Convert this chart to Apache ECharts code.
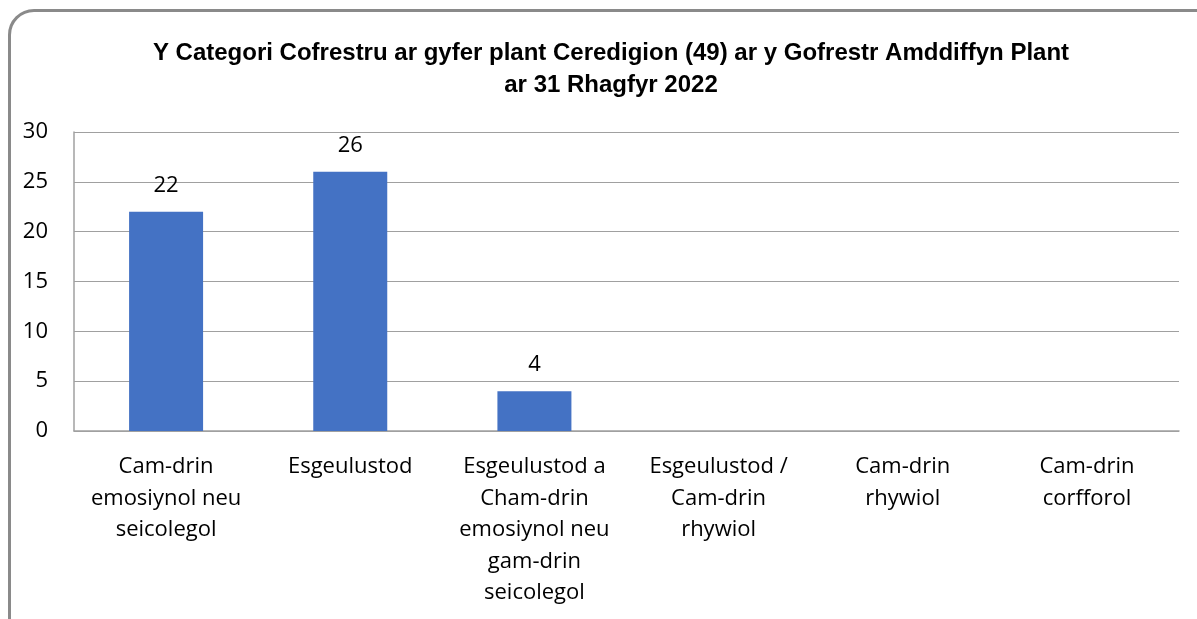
<!DOCTYPE html>
<html>
<head>
<meta charset="utf-8">
<script src="https://cdn.jsdelivr.net/npm/echarts@6/dist/echarts.min.js"></script>
<style>
  html, body { margin: 0; padding: 0; background: #fff; overflow: hidden; }
  #frame {
    position: absolute; left: 8px; top: 9px; width: 1220px; height: 640px;
    border: 3px solid #8a8a8a; border-radius: 26px; box-sizing: border-box;
  }
  #chart { position: absolute; left: 0; top: 0; width: 1197px; height: 619px; }
</style>
</head>
<body>
<div id="frame"></div>
<div id="chart"></div>
<script>
const categories = [
  'Cam-drin\nemosiynol neu\nseicolegol',
  'Esgeulustod',
  'Esgeulustod a\nCham-drin\nemosiynol neu\ngam-drin\nseicolegol',
  'Esgeulustod /\nCam-drin\nrhywiol',
  'Cam-drin\nrhywiol',
  'Cam-drin\ncorfforol'
];
const counts = [22, 26, 4, null, null, null];
const yTicks = { min: 0, max: 30, interval: 5 };

const bodyFont = '"Open Sans", Lato, sans-serif';

const myChart = echarts.init(document.getElementById('chart'));

const option = {
  animation: false,
  title: {
    text: 'Y Categori Cofrestru ar gyfer plant Ceredigion (49) ar y Gofrestr Amddiffyn Plant\nar 31 Rhagfyr 2022',
    left: 606,
    top: 32,
    textAlign: 'center',
    textStyle: {
      fontFamily: '"Liberation Sans Narrow", "Liberation Sans", Arial, sans-serif',
      fontSize: 24,
      fontWeight: 'bold',
      color: '#000',
      lineHeight: 32
    }
  },
  grid: { left: 74, right: 18, top: 132, bottom: 188 },
  xAxis: {
    type: 'category',
    data: categories,
    axisLine: { lineStyle: { color: '#a0a0a0', width: 1.5 } },
    axisTick: { show: false },
    axisLabel: {
      interval: 0,
      margin: 20,
      fontFamily: bodyFont,
      fontSize: 22,
      lineHeight: 31.5,
      color: '#000'
    }
  },
  yAxis: {
    type: 'value',
    min: yTicks.min,
    max: yTicks.max,
    interval: yTicks.interval,
    axisLine: { show: true, lineStyle: { color: '#a0a0a0', width: 1.5 } },
    axisTick: { show: false },
    splitLine: { lineStyle: { color: '#a0a0a0', width: 1.2 } },
    axisLabel: {
      margin: 26,
      fontFamily: bodyFont,
      fontSize: 22,
      color: '#000'
    }
  },
  series: [
    {
      type: 'bar',
      data: counts,
      barWidth: 74,
      itemStyle: { color: '#4472C4' },
      label: {
        show: true,
        position: 'top',
        distance: 15,
        fontFamily: bodyFont,
        fontSize: 22,
        color: '#000'
      }
    }
  ]
};

myChart.setOption(option);
</script>
</body>
</html>
